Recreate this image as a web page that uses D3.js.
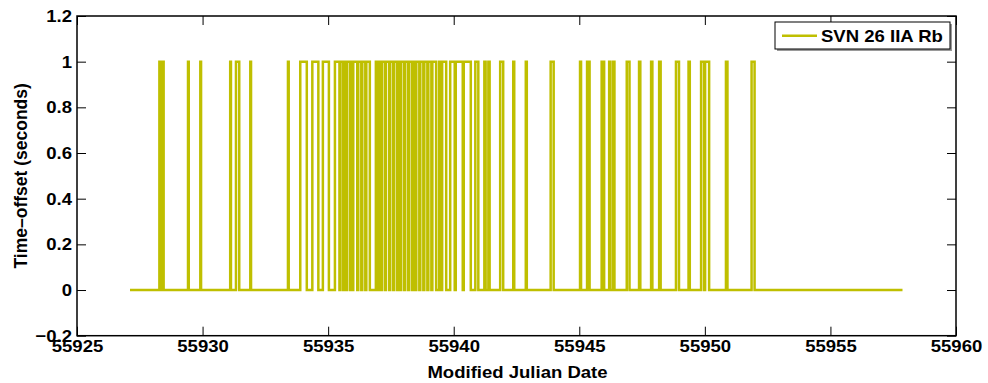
<!DOCTYPE html>
<html>
<head>
<meta charset="utf-8">
<script src="https://cdn.jsdelivr.net/npm/d3@7"></script>
<style>
  html, body { margin: 0; padding: 0; background: #fff; }
  svg text { font-family: "Liberation Sans", Arial, Helvetica, sans-serif; font-weight: bold; fill: #000; }
</style>
</head>
<body>
<svg id="chart" width="988" height="383"></svg>
<script>
// Time-offset record for SVN 26 (Block IIA, rubidium clock)
const seriesName = "SVN 26 IIA Rb";
const recordStart = 55927.11;   // first epoch (MJD)
const recordEnd = 55957.87;     // last epoch (MJD)
// Intervals (MJD) during which the reported time-offset jumps to 1 s
const jumpStart = [55928.28, 55928.40, 55929.42, 55929.91, 55931.10, 55931.33, 55931.90, 55933.40,
  55933.89, 55934.37, 55934.79,
  55935.27, 55935.49, 55935.64, 55935.76, 55935.92, 55936.00, 55936.20, 55936.36, 55936.52,
  55936.90, 55937.04, 55937.14, 55937.30,
  55937.47, 55937.63, 55937.79, 55937.91, 55938.07, 55938.23, 55938.39, 55938.51, 55938.67, 55938.83,
  55938.99, 55939.15,
  55939.42, 55939.54, 55939.86, 55940.08, 55940.40, 55940.86, 55941.22, 55941.38, 55941.85, 55942.37,
  55942.87, 55943.86, 55945.03, 55945.31, 55945.89, 55946.19, 55946.35, 55946.89, 55947.38, 55947.86,
  55948.18, 55948.85, 55949.35, 55949.85, 55950.01, 55950.84, 55951.86];
const jumpEnd = [55928.33, 55928.45, 55929.45, 55929.94, 55931.13, 55931.46, 55931.93, 55933.43,
  55934.15, 55934.61, 55935.03,
  55935.45, 55935.60, 55935.72, 55935.88, 55935.96, 55936.16, 55936.32, 55936.48, 55936.66,
  55937.00, 55937.10, 55937.26, 55937.43,
  55937.59, 55937.75, 55937.87, 55938.03, 55938.19, 55938.35, 55938.47, 55938.63, 55938.79, 55938.95,
  55939.11, 55939.30,
  55939.50, 55939.70, 55940.04, 55940.36, 55940.68, 55940.98, 55941.27, 55941.43, 55941.97, 55942.41,
  55942.91, 55943.98, 55945.07, 55945.41, 55945.99, 55946.24, 55946.40, 55947.00, 55947.43, 55947.91,
  55948.24, 55948.97, 55949.40, 55949.97, 55950.17, 55950.90, 55951.98];
const baseOffset = 0;
const jumpOffset = 1;
const xTicks = [55925, 55930, 55935, 55940, 55945, 55950, 55955, 55960];
const yTicks = [-0.2, 0, 0.2, 0.4, 0.6, 0.8, 1, 1.2];

const svg = d3.select("#chart");
const plotLeft = 77, plotRight = 956, plotTop = 16, plotBottom = 335.7;
const stretch = 1.09;   // horizontal widening of the label glyphs
const lineColor = "#bfbf00";

const x = d3.scaleLinear().domain([55925, 55960]).range([plotLeft, plotRight]);
const y = d3.scaleLinear().domain([-0.2, 1.2]).range([plotBottom, plotTop]);

// Build the step trace from the jump intervals
const points = [[recordStart, baseOffset]];
jumpStart.forEach((s, i) => {
  points.push([s, baseOffset], [s, jumpOffset], [jumpEnd[i], jumpOffset], [jumpEnd[i], baseOffset]);
});
points.push([recordEnd, baseOffset]);

svg.append("defs").append("clipPath").attr("id", "plotClip")
  .append("rect").attr("x", plotLeft).attr("y", plotTop)
  .attr("width", plotRight - plotLeft).attr("height", plotBottom - plotTop);

svg.append("path")
  .datum(points)
  .attr("clip-path", "url(#plotClip)")
  .attr("fill", "none")
  .attr("stroke", lineColor)
  .attr("stroke-width", 2.5)
  .attr("stroke-linejoin", "miter")
  .attr("d", d3.line().x(d => x(d[0])).y(d => y(d[1])));

const fmtY = v => (v < 0 ? "\u2212" : "") + d3.format("")(Math.abs(+v.toFixed(1)));
const tickLen = 9;

function styleAxis(g) {
  g.select(".domain").remove();
  g.selectAll(".tick line").attr("stroke", "#000").attr("stroke-width", 1);
  g.selectAll(".tick text").attr("font-size", 17).attr("fill", "#000");
}

// bottom axis with labels
svg.append("g").attr("transform", `translate(0,${plotBottom})`)
  .call(d3.axisBottom(x).tickValues(xTicks).tickFormat(d3.format("d")).tickSizeInner(-tickLen).tickSizeOuter(0).tickPadding(4))
  .call(styleAxis);
// top mirror ticks
svg.append("g").attr("transform", `translate(0,${plotTop})`)
  .call(d3.axisTop(x).tickValues(xTicks).tickFormat("").tickSizeInner(-tickLen).tickSizeOuter(0))
  .call(styleAxis);
// left axis with labels
svg.append("g").attr("transform", `translate(${plotLeft},0)`)
  .call(d3.axisLeft(y).tickValues(yTicks).tickFormat(fmtY).tickSizeInner(-tickLen).tickSizeOuter(0).tickPadding(5))
  .call(styleAxis);
// right mirror ticks
svg.append("g").attr("transform", `translate(${plotRight},0)`)
  .call(d3.axisRight(y).tickValues(yTicks).tickFormat("").tickSizeInner(-tickLen).tickSizeOuter(0))
  .call(styleAxis);

// plot box
svg.append("rect")
  .attr("x", plotLeft).attr("y", plotTop).attr("width", plotRight - plotLeft).attr("height", plotBottom - plotTop)
  .attr("fill", "none").attr("stroke", "#000").attr("stroke-width", 1.5);

// axis titles
svg.append("text")
  .attr("x", (plotLeft + plotRight) / 2 + 1).attr("y", 378)
  .attr("text-anchor", "middle").attr("font-size", 17)
  .text("Modified Julian Date");

svg.append("text")
  .attr("transform", `translate(27,${(plotTop + plotBottom) / 2}) rotate(-90)`)
  .attr("text-anchor", "middle").attr("font-size", 17.5)
  .text("Time\u2013offset (seconds)");

// legend
const lg = svg.append("g").attr("transform", "translate(775,22)");
lg.append("rect").attr("x", 2).attr("y", 2).attr("width", 175).attr("height", 27).attr("fill", "#9a9a9a");
lg.append("rect").attr("x", 0).attr("y", 0).attr("width", 175).attr("height", 27)
  .attr("fill", "#fff").attr("stroke", "#000").attr("stroke-width", 1);
lg.append("line").attr("x1", 7).attr("x2", 42).attr("y1", 13.7).attr("y2", 13.7)
  .attr("stroke", lineColor).attr("stroke-width", 2.5);
lg.append("text").attr("x", 46).attr("y", 20).attr("font-size", 17).text(seriesName);

// widen horizontal labels
svg.selectAll("text").each(function () {
  const t = d3.select(this);
  if ((t.attr("transform") || "").includes("rotate")) return;
  const w = this.getComputedTextLength();
  if (w > 0) t.attr("textLength", w * stretch).attr("lengthAdjust", "spacingAndGlyphs");
});
</script>
</body>
</html>
